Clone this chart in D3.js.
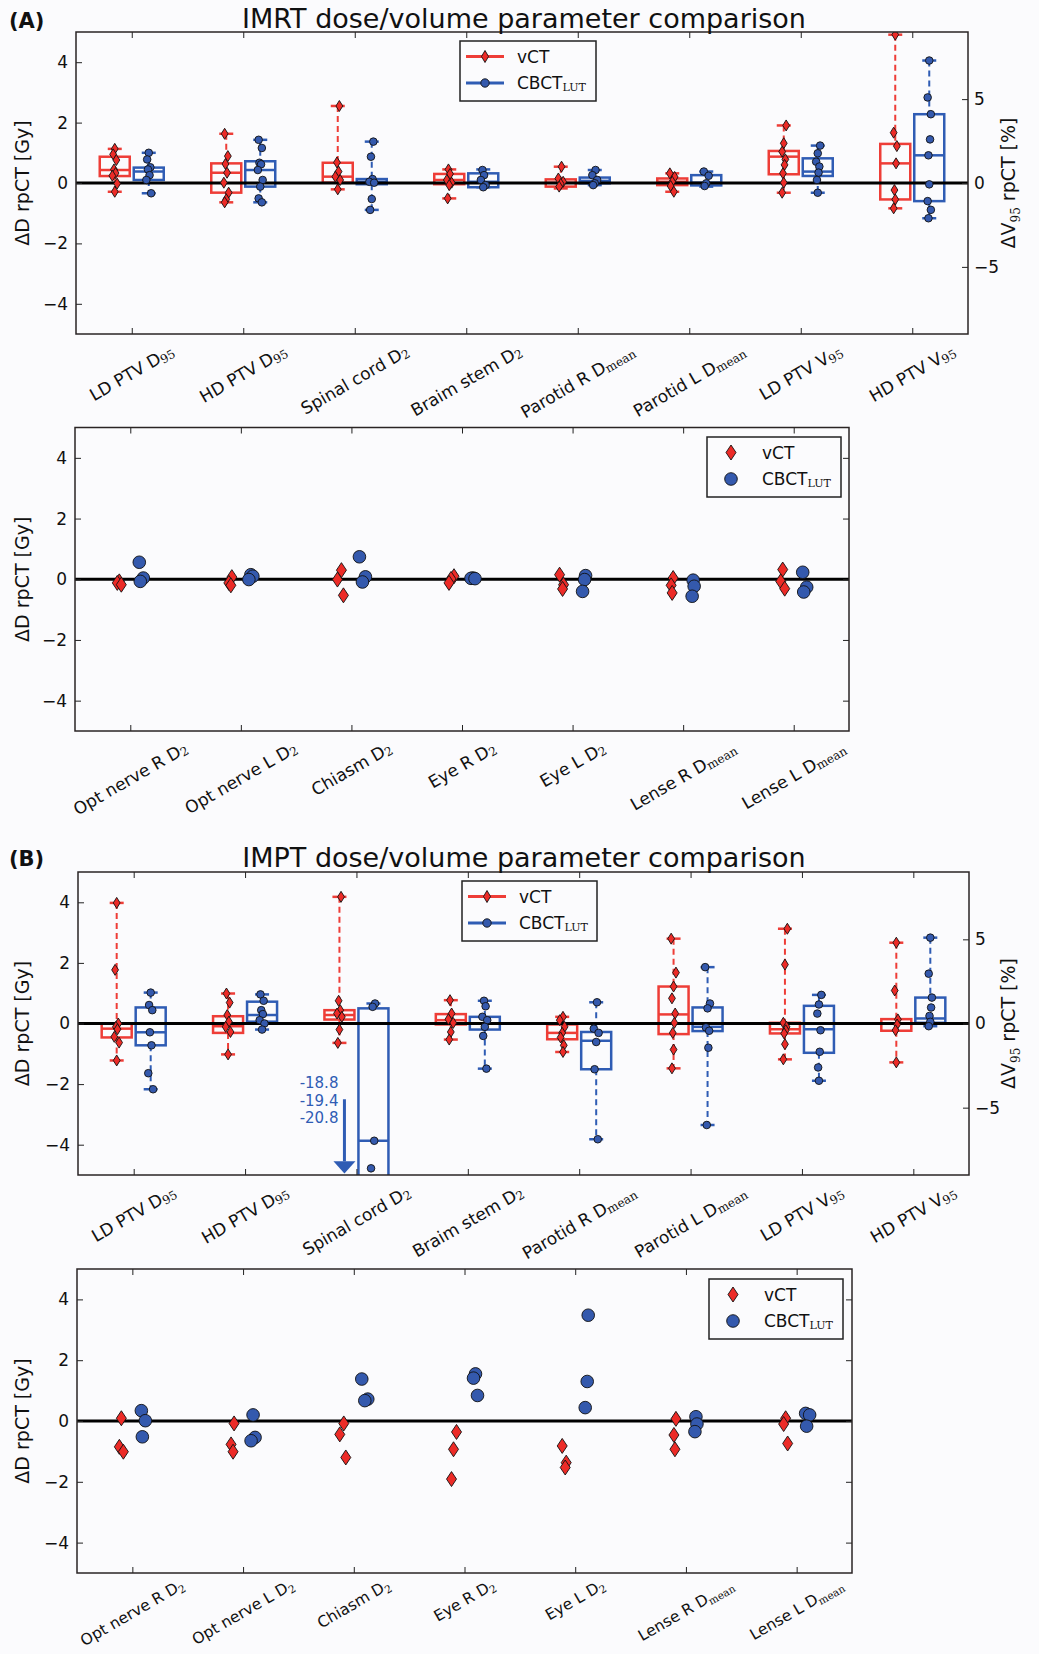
<!DOCTYPE html>
<html><head><meta charset="utf-8">
<script src="https://cdn.jsdelivr.net/npm/d3@7"></script>
<style>
body{margin:0;background:#fbfbfd;}
svg{display:block;font-family:"DejaVu Sans",sans-serif;}
</style></head><body>
<svg id="fig" width="1039" height="1654"></svg>
<script>
// ---------------- DATA ----------------
const topCatMain = ["LD PTV D","HD PTV D","Spinal cord D","Braim stem D","Parotid R D","Parotid L D","LD PTV V","HD PTV V"];
const topCatSub  = ["95","95","2","2","mean","mean","95","95"];
const topCatUsesRight = [false,false,false,false,false,false,true,true];
const botCatMain = ["Opt nerve R D","Opt nerve L D","Chiasm D","Eye R D","Eye L D","Lense R D","Lense L D"];
const botCatSub  = ["2","2","2","2","2","mean","mean"];
const yTicksLeft = [-4,-2,0,2,4];
const yTicksRight = [-5,0,5];
const seriesNames = ["vCT","CBCT"];
const seriesSub = ["","LUT"];

// box stats: [whisker low, q1, median, q3, whisker high]
const imrtVctBox = [[-0.29,0.23,0.43,0.87,1.13],[-0.64,-0.32,0.34,0.65,1.63],[-0.21,0.01,0.21,0.67,2.55],[-0.51,-0.04,0.10,0.30,0.45],
  [-0.18,-0.12,0.01,0.12,0.54],[-0.29,-0.07,0.04,0.15,0.32],[-0.58,0.52,1.57,1.91,3.43],[-1.51,-0.98,1.17,2.33,8.84]];
const imrtVctPts = [[1.13,0.95,0.76,0.45,0.33,0.24,-0.02,-0.29],[1.63,0.89,0.63,0.34,0.01,-0.32,-0.54,-0.64],[2.55,0.68,0.38,0.21,0.10,-0.21],
  [0.45,0.30,0.10,0.01,-0.07,-0.51],[0.54,0.15,0.04,-0.03,-0.12],[0.32,0.20,0.04,-0.10,-0.29],[3.43,2.37,1.87,1.41,1.08,0.58,0.02,-0.58],
  [8.84,3.0,2.2,1.17,-0.42,-0.98,-1.51]];
const imrtCbctBox = [[-0.34,0.10,0.38,0.51,1.00],[-0.64,-0.12,0.43,0.72,1.43],[-0.89,-0.04,0.04,0.13,1.37],[-0.14,-0.14,0.04,0.32,0.45],
  [-0.07,-0.01,0.07,0.18,0.43],[-0.12,-0.08,0.01,0.26,0.38],[-0.58,0.42,0.68,1.47,2.23],[-2.1,-1.08,1.65,4.1,7.3]];
const imrtCbctPts = [[1.0,0.78,0.52,0.45,0.26,0.10,-0.34],[1.43,1.16,0.67,0.62,0.43,0.10,-0.12,-0.51,-0.64],[1.37,0.87,0.13,0.04,0.01,-0.53,-0.89],
  [0.43,0.26,0.10,-0.07,-0.14],[0.43,0.26,0.10,-0.01,-0.07],[0.38,0.24,-0.01,-0.10],[2.23,1.77,1.27,0.98,0.62,0.18,-0.58],
  [7.3,5.1,4.1,2.6,1.65,-0.08,-1.08,-1.6,-2.1]];
const imrtOrganVct  = [[-0.07,-0.12,-0.18],[0.07,-0.12,-0.2],[0.3,-0.01,-0.53],[0.1,0.01,-0.12],[0.15,-0.18,-0.32],[0.04,-0.2,-0.45],[0.32,-0.07,-0.31]];
const imrtOrganCbct = [[0.56,0.04,-0.07],[0.15,0.1,-0.01],[0.74,0.08,-0.09],[0.04,0.03,0.02],[0.12,-0.01,-0.4],[-0.03,-0.23,-0.56],[0.23,-0.26,-0.42]];

const imptVctBox = [[-1.22,-0.46,-0.17,0.0,3.98],[-1.02,-0.31,-0.09,0.24,0.99],[-0.64,0.13,0.28,0.44,4.18],[-0.53,-0.03,0.11,0.31,0.77],
  [-0.94,-0.52,-0.31,-0.03,0.22],[-1.48,-0.35,0.30,1.22,2.8],[-2.13,-0.59,-0.34,0.04,5.63],[-2.31,-0.43,0.0,0.26,4.8]];
const imptVctPts = [[3.98,1.77,0.0,-0.11,-0.19,-0.44,-0.63,-1.22],[0.99,0.69,0.28,0.06,-0.11,-0.28,-1.02],[4.18,0.75,0.44,0.33,0.22,-0.2,-0.64],
  [0.77,0.33,0.14,0.02,-0.28,-0.53],[0.22,0.11,-0.11,-0.31,-0.46,-0.72,-0.94],[2.8,1.68,1.22,0.83,0.33,0.02,-0.31,-0.86,-1.48],
  [5.63,3.5,0.04,-0.2,-0.4,-0.59,-1.23,-2.13],[4.8,1.96,0.24,-0.06,-0.4,-2.31]];
const imptCbctBox = [[-2.17,-0.72,-0.29,0.53,1.02],[-0.2,0.06,0.28,0.72,0.96],[-20.8,-18.8,-3.87,0.5,0.66],[-1.49,-0.2,0.0,0.22,0.75],
  [-3.82,-1.51,-0.57,-0.28,0.7],[-3.35,-0.25,-0.11,0.53,1.86],[-3.4,-1.74,-0.34,1.05,1.7],[-0.16,0.04,0.3,1.54,5.1]];
const imptCbctPts = [[1.02,0.61,0.44,-0.29,-0.72,-1.64,-2.17],[0.96,0.75,0.44,0.31,0.11,0.0,-0.2],[0.66,0.55,-3.87,-4.78,-18.8,-19.4,-20.8],
  [0.75,0.57,0.22,0.11,-0.11,-0.41,-1.49],[0.7,-0.17,-0.31,-0.61,-1.51,-3.82],[1.86,0.66,0.5,-0.13,-0.24,-0.8,-3.35],
  [1.7,1.13,0.59,-0.4,-1.68,-2.61,-3.4],[5.1,2.96,1.54,0.95,0.45,0.1,-0.16]];
const imptOrganVct  = [[0.09,-0.85,-1.01],[-0.08,-0.77,-1.01],[-0.08,-0.44,-1.2],[-0.36,-0.93,-1.91],[-0.82,-1.37,-1.53],[0.07,-0.46,-0.93],[0.09,-0.1,-0.74]];
const imptOrganCbct = [[0.34,0.01,-0.52],[0.2,-0.54,-0.65],[1.38,0.72,0.67],[1.55,1.41,0.84],[3.48,1.3,0.44],[0.14,-0.1,-0.35],[0.25,0.2,-0.17]];
const offChartLabels = ["-18.8","-19.4","-20.8"];

// ---------------- STYLE ----------------
const RED = "#ee3d37", BLUE = "#2f5cb4", REDF = "#ec2b27", BLUEF = "#3459ad";
const BG = "#fbfbfd";
const jit = [0,-2,2,-1,1,-3,3,0,-2,2,1,-1];
const svg = d3.select("#fig");

function diamond(g, cx, cy, h, w, fill){
  g.append("path").attr("d",`M${cx},${cy-h}L${cx+w},${cy}L${cx},${cy+h}L${cx-w},${cy}Z`)
   .attr("fill",fill).attr("stroke","#111").attr("stroke-width",0.9);
}
function circle(g, cx, cy, r, fill){
  g.append("circle").attr("cx",cx).attr("cy",cy).attr("r",r).attr("fill",fill).attr("stroke","#111").attr("stroke-width",0.9);
}

function panel(o){
  const n = o.main.length;
  const x = d3.scalePoint().domain(d3.range(n)).range([o.l,o.r]).padding(0.5);
  const yL = d3.scaleLinear().domain([-5,5]).range([o.b,o.t]);
  const yR = d3.scaleLinear().domain([-9,9]).range([o.b,o.t]);
  const cid = "clip"+o.id;
  svg.append("clipPath").attr("id",cid).append("rect").attr("x",o.l).attr("y",o.t).attr("width",o.r-o.l).attr("height",o.b-o.t);
  const plot = svg.append("g").attr("clip-path",`url(#${cid})`);

  // axes ticks
  const axG = svg.append("g");
  axG.append("g").attr("transform",`translate(${o.l},0)`)
    .call(d3.axisLeft(yL).tickValues(yTicksLeft).tickSizeInner(-6).tickSizeOuter(0).tickPadding(8).tickFormat(d3.format("d")));
  const rightAx = o.twin
    ? d3.axisRight(yR).tickValues(yTicksRight).tickSizeInner(-6).tickSizeOuter(0).tickPadding(6).tickFormat(d3.format("d"))
    : d3.axisRight(yL).tickValues(yTicksLeft).tickSizeInner(-6).tickSizeOuter(0).tickFormat("");
  axG.append("g").attr("transform",`translate(${o.r},0)`).call(rightAx);
  axG.append("g").attr("transform",`translate(0,${o.b})`).call(d3.axisBottom(x).tickSizeInner(-6).tickSizeOuter(0).tickFormat(""));
  axG.append("g").attr("transform",`translate(0,${o.t})`).call(d3.axisTop(x).tickSizeInner(-6).tickSizeOuter(0).tickFormat(""));
  axG.selectAll("g").attr("font-size",17).attr("font-family","DejaVu Sans");
  axG.selectAll(".domain").remove();
  axG.selectAll(".tick line").attr("stroke","#222").attr("stroke-width",1);
  axG.selectAll(".tick text").attr("fill","#111");

  // category labels
  const fs = o.labFs || 17;
  for(let i=0;i<n;i++){
    const t = svg.append("text").attr("font-size",fs).attr("text-anchor","middle").attr("dominant-baseline","central").attr("fill","#111");
    t.append("tspan").text(o.main[i]);
    t.append("tspan").attr("font-family","DejaVu Serif").attr("font-size",fs-5).attr("dy",4).text(o.sub[i]);
    const w = t.node().getComputedTextLength();
    const H = w*0.5 + fs*0.866;
    t.attr("transform",`translate(${x(i)},${o.b+(o.labPad||8)+H/2}) rotate(-30)`);
  }

  if(o.boxes){
    const sets = [[o.vBox,o.vPts,-17,RED,REDF,"d"],[o.cBox,o.cPts,17,BLUE,BLUEF,"o"]];
    sets.forEach(([box,pts,off,col]) => {
      for(let i=0;i<n;i++){
        const y = o.useRight[i] ? yR : yL;
        const [lo,q1,md,q3,hi] = box[i];
        const cx = x(i)+off;
        plot.append("line").attr("x1",cx).attr("x2",cx).attr("y1",y(hi)).attr("y2",y(q3)).attr("stroke",col).attr("stroke-width",2).attr("stroke-dasharray","6,4");
        plot.append("line").attr("x1",cx).attr("x2",cx).attr("y1",y(q1)).attr("y2",y(lo)).attr("stroke",col).attr("stroke-width",2).attr("stroke-dasharray","6,4");
        [lo,hi].forEach(v=>plot.append("line").attr("x1",cx-7).attr("x2",cx+7).attr("y1",y(v)).attr("y2",y(v)).attr("stroke",col).attr("stroke-width",2.5));
        plot.append("rect").attr("x",cx-15).attr("width",30).attr("y",y(q3)).attr("height",y(q1)-y(q3)).attr("fill","none").attr("stroke",col).attr("stroke-width",2.5);
        plot.append("line").attr("x1",cx-15).attr("x2",cx+15).attr("y1",y(md)).attr("y2",y(md)).attr("stroke",col).attr("stroke-width",2.5);
      }
    });
    plot.append("line").attr("x1",o.l).attr("x2",o.r).attr("y1",yL(0)).attr("y2",yL(0)).attr("stroke","#000").attr("stroke-width",3);
    sets.forEach(([box,pts,off,col,fill,m]) => {
      for(let i=0;i<n;i++){
        const y = o.useRight[i] ? yR : yL;
        pts[i].forEach((v,k)=>{
          const cx = x(i)+off+jit[(k+i)%jit.length]*0.8;
          if(m==="d") diamond(plot,cx,y(v),5.5,3.4,fill); else circle(plot,cx,y(v),3.8,fill);
        });
      }
    });
  } else {
    plot.append("line").attr("x1",o.l).attr("x2",o.r).attr("y1",yL(0)).attr("y2",yL(0)).attr("stroke","#000").attr("stroke-width",3);
    for(let i=0;i<n;i++){
      o.vPts[i].forEach((v,k)=>diamond(plot,x(i)-11+jit[(k+2*i)%jit.length],yL(v),7.5,5,REDF));
      o.cPts[i].forEach((v,k)=>circle(plot,x(i)+11+jit[(k+2*i+1)%jit.length],yL(v),6.3,BLUEF));
    }
  }

  // frame
  svg.append("rect").attr("x",o.l).attr("y",o.t).attr("width",o.r-o.l).attr("height",o.b-o.t)
    .attr("fill","none").attr("stroke","#2a2424").attr("stroke-width",1.5);

  // y labels
  svg.append("text").attr("font-size",19).attr("text-anchor","middle").attr("fill","#111")
    .attr("transform",`translate(29,${(o.t+o.b)/2}) rotate(-90)`).text("ΔD rpCT [Gy]");
  if(o.twin){
    const yr = svg.append("text").attr("font-size",19).attr("text-anchor","middle").attr("fill","#111")
      .attr("transform",`translate(1015,${(o.t+o.b)/2}) rotate(-90)`);
    yr.append("tspan").text("ΔV");
    yr.append("tspan").attr("font-family","DejaVu Serif").attr("font-size",12).attr("dy",5).text("95");
    yr.append("tspan").attr("dy",-5).text(" rpCT [%]");
  }

  // legend
  const lg = svg.append("g");
  lg.append("rect").attr("x",o.lgX).attr("y",o.lgY).attr("width",o.lgW).attr("height",60)
    .attr("fill",BG).attr("stroke","#222").attr("stroke-width",1.5);
  [[RED,REDF,"d"],[BLUE,BLUEF,"o"]].forEach(([col,fill,m],k)=>{
    const yy = o.lgY + 15.5 + k*26.5;
    if(o.boxes){
      lg.append("line").attr("x1",o.lgX+6).attr("x2",o.lgX+44).attr("y1",yy).attr("y2",yy).attr("stroke",col).attr("stroke-width",3);
      if(m==="d") diamond(lg,o.lgX+25,yy,6,3.5,fill); else circle(lg,o.lgX+25,yy,4.2,fill);
    } else {
      if(m==="d") diamond(lg,o.lgX+24,yy,7.5,5,fill); else circle(lg,o.lgX+24,yy,6.3,fill);
    }
    const t = lg.append("text").attr("x",o.lgX+(o.boxes?57:55)).attr("y",yy).attr("dominant-baseline","central")
      .attr("font-size",17).attr("fill","#111");
    t.append("tspan").text(seriesNames[k]);
    if(seriesSub[k]) t.append("tspan").attr("font-family","DejaVu Serif").attr("font-size",11).attr("dy",4).text(seriesSub[k]);
  });
  return {x,yL,yR};
}

// ---------------- PANELS ----------------
panel({id:"a1",l:76,r:968,t:32,b:334,main:topCatMain,sub:topCatSub,useRight:topCatUsesRight,twin:true,boxes:true,
  vBox:imrtVctBox,vPts:imrtVctPts,cBox:imrtCbctBox,cPts:imrtCbctPts,lgX:460,lgY:41,lgW:136});
panel({id:"a2",l:75,r:849,t:427.5,b:731,main:botCatMain,sub:botCatSub,twin:false,boxes:false,
  vPts:imrtOrganVct,cPts:imrtOrganCbct,lgX:707,lgY:437,lgW:134});
const pb = panel({id:"b1",l:78,r:969,t:872,b:1175,main:topCatMain,sub:topCatSub,useRight:topCatUsesRight,twin:true,boxes:true,
  vBox:imptVctBox,vPts:imptVctPts,cBox:imptCbctBox,cPts:imptCbctPts,lgX:462,lgY:881,lgW:135});
panel({id:"b2",l:77,r:852,t:1269,b:1573,main:botCatMain,sub:botCatSub,twin:false,boxes:false,labFs:15.5,labPad:4,
  vPts:imptOrganVct,cPts:imptOrganCbct,lgX:709,lgY:1279,lgW:134});

// off-chart annotation (IMPT spinal cord CBCT)
{
  const ax = pb.x(2) - 12;
  offChartLabels.forEach((s,k)=>{
    svg.append("text").attr("x",ax-6).attr("y",pb.yL(-1.98)+k*17.5).attr("text-anchor","end").attr("dominant-baseline","central")
      .attr("font-size",15).attr("fill",BLUE).text(s);
  });
  svg.append("line").attr("x1",ax).attr("x2",ax).attr("y1",pb.yL(-2.5)).attr("y2",pb.yL(-4.55)).attr("stroke",BLUE).attr("stroke-width",3);
  const yt = pb.yL(-4.55), yb = pb.yL(-4.95);
  svg.append("path").attr("d",`M${ax-11},${yt}L${ax+11},${yt}L${ax},${yb}Z`).attr("fill",BLUE);
}

// titles
svg.append("text").attr("x",524).attr("y",28).attr("text-anchor","middle").attr("font-size",27).attr("fill","#111").text("IMRT dose/volume parameter comparison");
svg.append("text").attr("x",524).attr("y",867).attr("text-anchor","middle").attr("font-size",27).attr("fill","#111").text("IMPT dose/volume parameter comparison");
svg.append("text").attr("x",9).attr("y",28).attr("font-size",21).attr("font-weight","bold").attr("fill","#111").text("(A)");
svg.append("text").attr("x",9).attr("y",866).attr("font-size",21).attr("font-weight","bold").attr("fill","#111").text("(B)");
</script>
</body></html>
